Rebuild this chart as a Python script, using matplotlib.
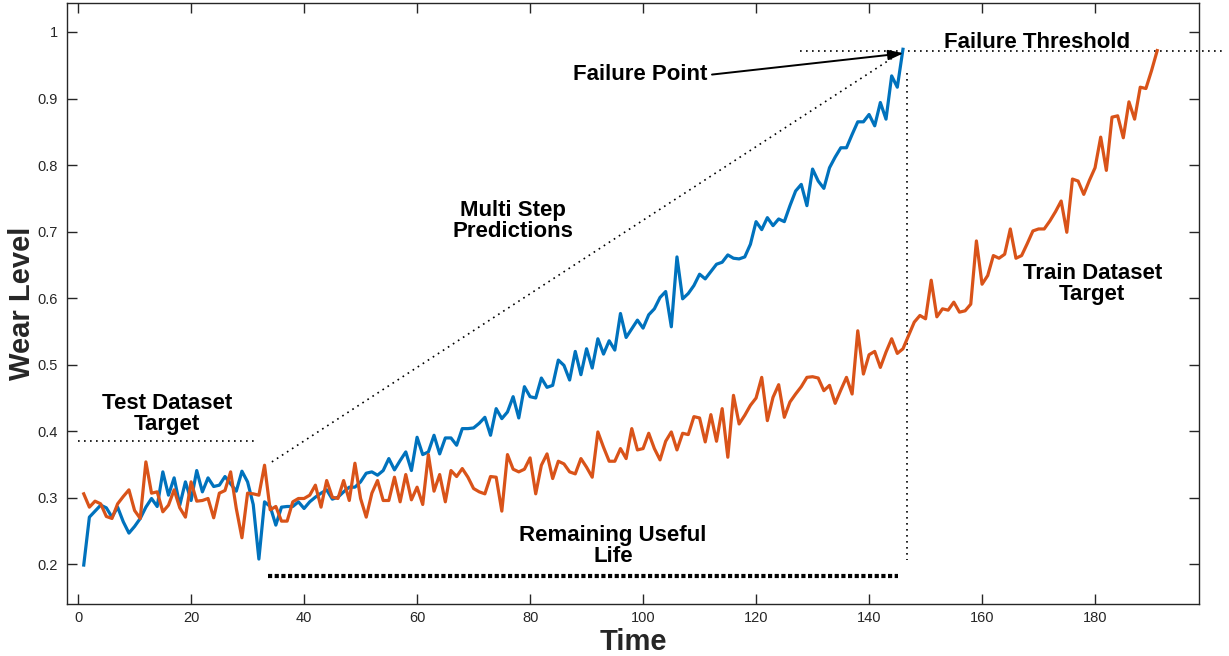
import matplotlib
matplotlib.use("Agg")
import matplotlib.pyplot as plt
import numpy as np

plt.rcParams['font.family'] = ['Liberation Sans', 'DejaVu Sans']

# ---------------- data ----------------
pred_wear = [
    0.199, 0.271, 0.280, 0.289, 0.285, 0.271, 0.286, 0.264, 0.247, 0.257,
    0.269, 0.286, 0.299, 0.287, 0.339, 0.304, 0.330, 0.289, 0.324, 0.296,
    0.341, 0.309, 0.330, 0.317, 0.319, 0.332, 0.321, 0.310, 0.340, 0.324,
    0.290, 0.208, 0.294, 0.287, 0.259, 0.286, 0.287, 0.287, 0.294, 0.284,
    0.294, 0.301, 0.307, 0.312, 0.298, 0.301, 0.309, 0.316, 0.316, 0.324,
    0.337, 0.339, 0.334, 0.341, 0.359, 0.342, 0.356, 0.369, 0.341, 0.391,
    0.365, 0.369, 0.394, 0.366, 0.390, 0.390, 0.379, 0.404, 0.404, 0.405,
    0.412, 0.421, 0.394, 0.434, 0.419, 0.429, 0.452, 0.420, 0.467, 0.452,
    0.450, 0.480, 0.466, 0.469, 0.507, 0.499, 0.477, 0.520, 0.485, 0.524,
    0.495, 0.539, 0.516, 0.536, 0.522, 0.577, 0.541, 0.554, 0.567, 0.555,
    0.575, 0.584, 0.601, 0.610, 0.557, 0.662, 0.599, 0.607, 0.619, 0.636,
    0.629, 0.640, 0.651, 0.654, 0.665, 0.660, 0.659, 0.662, 0.681, 0.715,
    0.703, 0.721, 0.709, 0.719, 0.715, 0.739, 0.761, 0.771, 0.739, 0.794,
    0.776, 0.765, 0.796, 0.812, 0.826, 0.826, 0.846, 0.865, 0.865, 0.876,
    0.859, 0.894, 0.869, 0.934, 0.917, 0.974,
]

train_wear = [
    0.306, 0.286, 0.295, 0.291, 0.272, 0.269, 0.291, 0.302, 0.312, 0.281,
    0.269, 0.354, 0.307, 0.309, 0.279, 0.289, 0.312, 0.285, 0.271, 0.324,
    0.295, 0.296, 0.299, 0.270, 0.307, 0.311, 0.339, 0.284, 0.240, 0.307,
    0.306, 0.304, 0.349, 0.282, 0.287, 0.265, 0.265, 0.294, 0.299, 0.299,
    0.304, 0.319, 0.286, 0.326, 0.301, 0.299, 0.326, 0.296, 0.352, 0.299,
    0.271, 0.307, 0.326, 0.296, 0.296, 0.331, 0.294, 0.335, 0.297, 0.316,
    0.290, 0.365, 0.310, 0.335, 0.294, 0.341, 0.332, 0.344, 0.331, 0.314,
    0.309, 0.306, 0.332, 0.331, 0.280, 0.365, 0.343, 0.339, 0.343, 0.360,
    0.306, 0.349, 0.366, 0.329, 0.355, 0.351, 0.339, 0.336, 0.359, 0.346,
    0.331, 0.399, 0.376, 0.355, 0.355, 0.374, 0.359, 0.404, 0.372, 0.374,
    0.397, 0.374, 0.357, 0.385, 0.399, 0.372, 0.397, 0.395, 0.422, 0.420,
    0.384, 0.425, 0.385, 0.434, 0.361, 0.454, 0.411, 0.424, 0.439, 0.450,
    0.481, 0.416, 0.451, 0.470, 0.421, 0.444, 0.456, 0.467, 0.481, 0.482,
    0.480, 0.461, 0.469, 0.442, 0.462, 0.481, 0.456, 0.551, 0.486, 0.515,
    0.520, 0.496, 0.519, 0.539, 0.517, 0.524, 0.544, 0.564, 0.574, 0.569,
    0.627, 0.572, 0.584, 0.582, 0.594, 0.579, 0.581, 0.591, 0.686, 0.621,
    0.634, 0.664, 0.660, 0.666, 0.704, 0.660, 0.664, 0.682, 0.701, 0.704,
    0.704, 0.716, 0.730, 0.746, 0.699, 0.779, 0.776, 0.756, 0.777, 0.796,
    0.842, 0.792, 0.872, 0.874, 0.841, 0.895, 0.869, 0.917, 0.915, 0.942,
    0.972,
]

pred_time = np.arange(1, len(pred_wear) + 1)
train_time = np.arange(1, len(train_wear) + 1)

failure_threshold = 0.971
test_target_level = 0.3855
failure_time = 146.7
rul_start, rul_end = 33.6, 145.1

x_ticks = [0, 20, 40, 60, 80, 100, 120, 140, 160, 180]
y_ticks = [0.2, 0.3, 0.4, 0.5, 0.6, 0.7, 0.8, 0.9, 1.0]
y_tick_labels = ['0.2', '0.3', '0.4', '0.5', '0.6', '0.7', '0.8', '0.9', '1']

BLUE = '#0072BD'
ORANGE = '#D95319'
AX_COL = '#262626'

# ---------------- figure ----------------
fig = plt.figure(figsize=(12.29, 6.56), dpi=100)
ax = fig.add_axes([0.0548, 0.0793, 0.9208, 0.9161])

ax.plot(pred_time, pred_wear, color=BLUE, lw=2.3, zorder=3)
ax.plot(train_time, train_wear, color=ORANGE, lw=2.3, zorder=4)

dot = (0, (1, 2.6))
dlw = 1.2
# failure threshold
ax.plot([127.8, 202.5], [failure_threshold, failure_threshold], color='black',
        lw=dlw, linestyle=dot, clip_on=False, zorder=2)
# test dataset target
ax.plot([0, 31.6], [test_target_level, test_target_level], color='black',
        lw=dlw, linestyle=dot, zorder=2)
# vertical at failure
ax.plot([failure_time, failure_time], [0.939, 0.207], color='black',
        lw=dlw, linestyle=dot, zorder=2)
# multi step diagonal
ax.plot([34.3, 144.5], [0.354, 0.963], color='black', lw=dlw,
        linestyle=dot, zorder=2)
# remaining useful life
ax.plot([rul_start, rul_end], [0.183, 0.183], color='black', lw=3.0,
        linestyle=(0, (1, 0.6)), solid_capstyle='butt',
        dash_capstyle='butt', zorder=2)

# arrow to failure point
ax.annotate('', xy=(146.1, 0.968), xytext=(112.2, 0.936),
            arrowprops=dict(arrowstyle='-|>,head_length=0.9,head_width=0.3',
                            color='black', lw=1.4, shrinkA=0, shrinkB=0),
            zorder=5)

tkw = dict(fontsize=16, fontweight='bold', ha='center', va='center',
           linespacing=1.0, color='black')
ax.text(99.5, 0.936, 'Failure Point', **tkw)
ax.text(169.8, 0.9835, 'Failure Threshold', **tkw)
ax.text(77.0, 0.716, 'Multi Step\nPredictions', **tkw)
ax.text(15.75, 0.4264, 'Test Dataset\nTarget', **tkw)
ax.text(94.7, 0.2271, 'Remaining Useful\nLife', **tkw)
ax.text(179.5, 0.621, 'Train Dataset\nTarget', **tkw)

ax.set_xlim(-1.9, 198.4)
ax.set_ylim(0.1405, 1.0435)
ax.set_xticks(x_ticks)
ax.set_yticks(y_ticks)
ax.set_yticklabels(y_tick_labels)

ax.tick_params(axis='both', which='both', direction='in', length=7.5,
               width=1.0, color=AX_COL, labelcolor=AX_COL, labelsize=10.5,
               top=True, right=True)
ax.tick_params(axis='y', pad=7)
ax.tick_params(axis='x', pad=5)
for s in ax.spines.values():
    s.set_color(AX_COL)
    s.set_linewidth(1.0)

ax.set_xlabel('Time', fontsize=21, fontweight='bold', color=AX_COL, labelpad=2)
ax.set_ylabel('Wear Level', fontsize=21, fontweight='bold', color=AX_COL,
              labelpad=1)

fig.savefig('out.png', dpi=100)
